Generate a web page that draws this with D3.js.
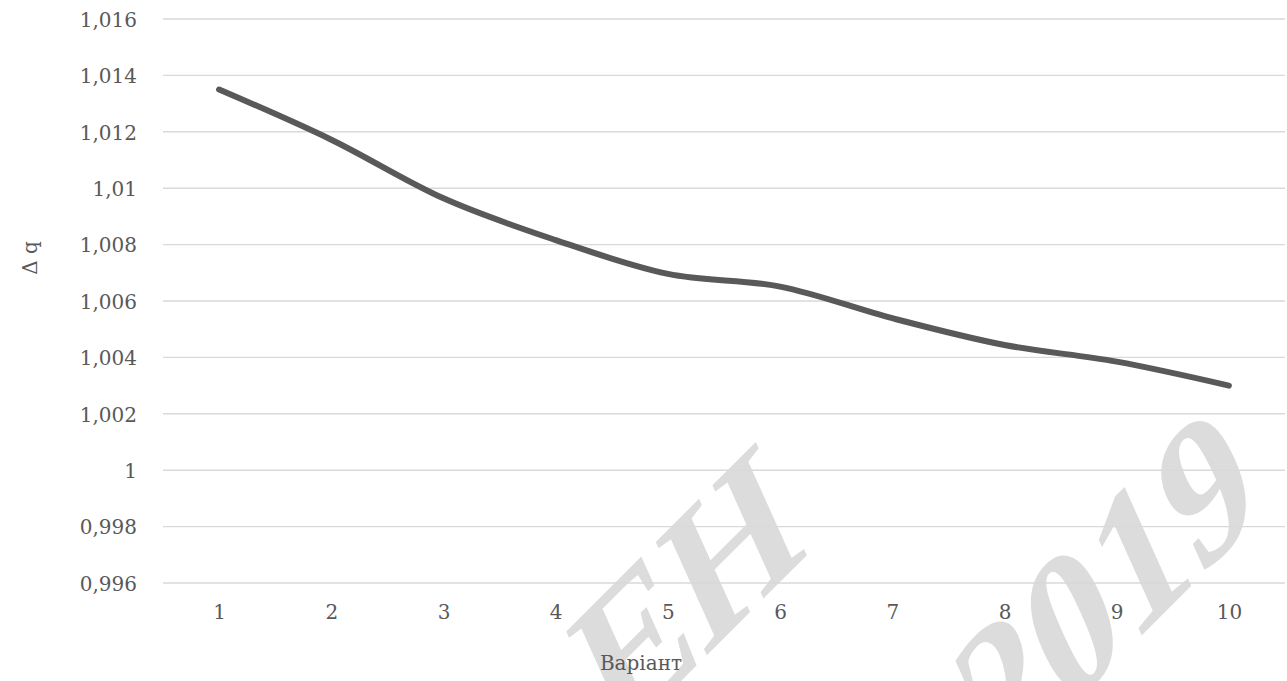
<!DOCTYPE html>
<html>
<head>
<meta charset="utf-8">
<script src="https://cdn.jsdelivr.net/npm/d3@7"></script>
<style>
  html, body { margin: 0; padding: 0; background: #ffffff; }
  svg { display: block; }
</style>
</head>
<body>
<svg id="chart" width="1287" height="681"></svg>
<script>
// Variant numbers along the x axis
const variants = ["1", "2", "3", "4", "5", "6", "7", "8", "9", "10"];
// Δq value for each variant
const deltaQ = [1.0135, 1.01172, 1.00964, 1.00816, 1.00696, 1.00651, 1.00539, 1.00444, 1.00385, 1.0030];
// Y axis tick values
const yTicks = [0.996, 0.998, 1.000, 1.002, 1.004, 1.006, 1.008, 1.010, 1.012, 1.014, 1.016];

const svg = d3.select("#chart");
const plot = { left: 163, right: 1285, top: 19, bottom: 583 };

const x = d3.scalePoint()
  .domain(variants)
  .range([plot.left, plot.right])
  .padding(0.5);

const y = d3.scaleLinear()
  .domain([0.996, 1.016])
  .range([plot.bottom, plot.top]);

// Decimal comma, trailing zeros dropped
const fmt = v => (+v.toFixed(3)).toString().replace(".", ",");

const textColor = "#595959";
const fontFamily = "'DejaVu Serif', serif";
const labelSize = 20;

// Background watermark, slanted diagonally
const slant = "matrix(0.707,-0.707,0.41,0.91,0,0)";
const wm = svg.append("g").attr("fill", "#dcdcdc")
  .attr("font-family", "'Liberation Serif', serif")
  .attr("font-weight", "bold")
  .attr("font-size", 190)
  .attr("text-anchor", "middle");
wm.append("text")
  .attr("transform", `translate(712,650) ${slant}`)
  .text("ЕН");
wm.append("text")
  .attr("transform", `translate(1131,646) ${slant}`)
  .text("2019");

// Horizontal gridlines
svg.append("g")
  .selectAll("line")
  .data(yTicks)
  .join("line")
  .attr("x1", plot.left)
  .attr("x2", plot.right)
  .attr("y1", d => y(d))
  .attr("y2", d => y(d))
  .attr("stroke", "#d9d9d9")
  .attr("stroke-width", 1.4);

// Y axis labels
const yAxis = svg.append("g")
  .attr("transform", `translate(${plot.left - 26},0)`)
  .call(d3.axisLeft(y).tickValues(yTicks).tickFormat(fmt).tickSize(0).tickPadding(0));
yAxis.select(".domain").remove();
yAxis.selectAll("text")
  .attr("fill", textColor)
  .attr("font-family", fontFamily)
  .attr("font-size", labelSize)
  .attr("dy", "0.36em");

// X axis labels
const xAxis = svg.append("g")
  .attr("transform", `translate(0,${plot.bottom + 22})`)
  .call(d3.axisBottom(x).tickSize(0).tickPadding(0));
xAxis.select(".domain").remove();
xAxis.selectAll("text")
  .attr("fill", textColor)
  .attr("font-family", fontFamily)
  .attr("font-size", labelSize)
  .attr("dy", "0.71em");

// Axis titles
svg.append("text")
  .attr("x", 641)
  .attr("y", 670)
  .attr("text-anchor", "middle")
  .attr("fill", textColor)
  .attr("font-family", fontFamily)
  .attr("font-size", labelSize)
  .text("Варіант");

svg.append("text")
  .attr("transform", "translate(37,258) rotate(-90)")
  .attr("text-anchor", "middle")
  .attr("fill", textColor)
  .attr("font-family", fontFamily)
  .attr("font-size", labelSize)
  .text("Δ q");

// Smoothed data line
const line = d3.line()
  .x((d, i) => x(variants[i]))
  .y(d => y(d))
  .curve(d3.curveCatmullRom.alpha(0));

svg.append("path")
  .datum(deltaQ)
  .attr("d", line)
  .attr("fill", "none")
  .attr("stroke", "#595959")
  .attr("stroke-width", 6)
  .attr("stroke-linecap", "round")
  .attr("stroke-linejoin", "round");
</script>
</body>
</html>
